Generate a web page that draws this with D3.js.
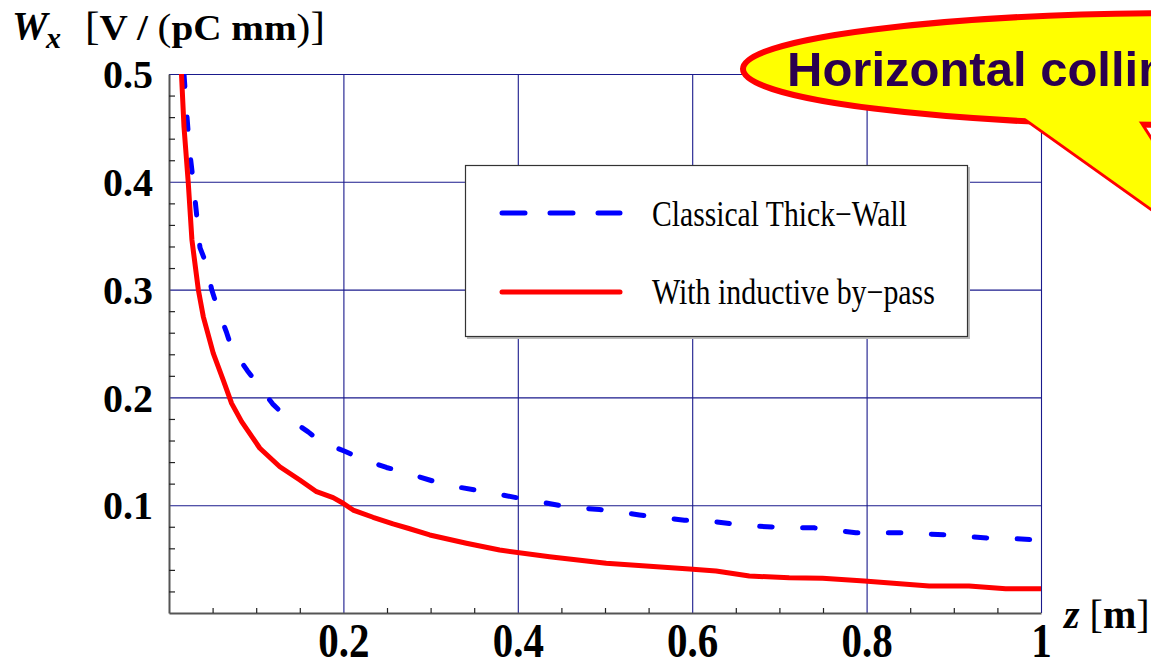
<!DOCTYPE html>
<html>
<head>
<meta charset="utf-8">
<script src="https://cdnjs.cloudflare.com/ajax/libs/d3/7.8.5/d3.min.js"></script>
<style>
body { margin: 0; background: #fff; }
svg { display: block; }
.serif { font-family: "Liberation Serif", "Times New Roman", Times, serif; }
</style>
</head>
<body>
<svg id="chart" width="1151" height="667"></svg>
<script>
// values
var zThick = [0.0172, 0.0200, 0.0235, 0.0275, 0.0315, 0.0355, 0.0432, 0.0489, 0.0553, 0.0661,
    0.0718, 0.0897, 0.1011, 0.1188, 0.1329, 0.1596, 0.1738, 0.2016, 0.2207, 0.2494,
    0.2684, 0.3162, 0.3658, 0.4116, 0.4601, 0.4937, 0.5395, 0.5911, 0.6120, 0.6636,
    0.7113, 0.7400, 0.7877, 0.8411, 0.8909, 0.9385, 0.9595, 1.0];
var wThick = [0.500, 0.467, 0.430, 0.402, 0.371, 0.339, 0.323, 0.300, 0.284, 0.260,
    0.246, 0.225, 0.213, 0.194, 0.183, 0.168, 0.159, 0.150, 0.143, 0.135,
    0.131, 0.119, 0.112, 0.105, 0.098, 0.096, 0.091, 0.086, 0.086, 0.081,
    0.079, 0.079, 0.0745, 0.0745, 0.0724, 0.0696, 0.0696, 0.0674];

var zBypass = [0.0143, 0.0172, 0.0221, 0.0263, 0.0336, 0.0393, 0.0507, 0.0622, 0.0718, 0.0833,
    0.1042, 0.1271, 0.1500, 0.1692, 0.1882, 0.1997, 0.2111, 0.2340, 0.2569, 0.2741,
    0.2990, 0.3410, 0.3792, 0.4364, 0.5014, 0.5968, 0.6274, 0.6655, 0.7113, 0.7495,
    0.7973, 0.8717, 0.9175, 0.9595, 1.0];
var wBypass = [0.500, 0.451, 0.399, 0.346, 0.300, 0.275, 0.241, 0.216, 0.1945, 0.1775,
    0.1528, 0.1357, 0.1234, 0.1125, 0.1070, 0.1018, 0.0955, 0.0888, 0.0826, 0.0786,
    0.0724, 0.0647, 0.0584, 0.0522, 0.0461, 0.0408, 0.0390, 0.0343, 0.0327, 0.0322,
    0.0297, 0.0250, 0.0250, 0.0225, 0.0225];

var seriesNames = ["Classical Thick\u2212Wall", "With inductive by\u2212pass"];
var seriesColors = ["#0000ff", "#ff0000"];

var xTicks = [0.2, 0.4, 0.6, 0.8, 1];
var xTickLabels = ["0.2", "0.4", "0.6", "0.8", "1"];
var xMinor = [0.05, 0.1, 0.15, 0.25, 0.3, 0.35, 0.45, 0.5, 0.55, 0.65, 0.7, 0.75, 0.85, 0.9, 0.95];
var yTicks = [0.1, 0.2, 0.3, 0.4, 0.5];
var yTickLabels = ["0.1", "0.2", "0.3", "0.4", "0.5"];
var yMinor = [0.02, 0.04, 0.06, 0.08, 0.12, 0.14, 0.16, 0.18, 0.22, 0.24, 0.26, 0.28,
    0.32, 0.34, 0.36, 0.38, 0.42, 0.44, 0.46, 0.48];

var calloutText = "Horizontal collimator";

var thick = zThick.map(function (z, i) { return {z: z, w: wThick[i]}; });
var bypass = zBypass.map(function (z, i) { return {z: z, w: wBypass[i]}; });

var plot = {left: 169, right: 1041, top: 74, bottom: 613};

var svg = d3.select("#chart");
svg.append("rect").attr("width", 1151).attr("height", 667).attr("fill", "#fff");

var x = d3.scaleLinear().domain([0, 1]).range([plot.left, plot.right]);
var y = d3.scaleLinear().domain([0, 0.5]).range([plot.bottom, plot.top]);

// stretch a text element horizontally so it spans the given width
function fitWidth(sel, x0, width) {
    var w = sel.node().getComputedTextLength();
    var k = width / w;
    sel.attr("transform", "translate(" + x0 + ",0) scale(" + k + ",1) translate(" + (-x0) + ",0)");
}

// grid
var gx = svg.append("g")
    .attr("transform", "translate(0," + plot.bottom + ")")
    .call(d3.axisBottom(x).tickValues(xTicks).tickSize(-(plot.bottom - plot.top)).tickFormat(""));
gx.select(".domain").remove();
gx.selectAll("line").attr("stroke", "#1a1a8c").attr("stroke-width", 1.1);

var gy = svg.append("g")
    .attr("transform", "translate(" + plot.left + ",0)")
    .call(d3.axisLeft(y).tickValues(yTicks).tickSize(-(plot.right - plot.left)).tickFormat(""));
gy.select(".domain").remove();
gy.selectAll("line").attr("stroke", "#1a1a8c").attr("stroke-width", 1.1);

// legend box
var legend = svg.append("g");
legend.append("rect")
    .attr("x", 467).attr("y", 167).attr("width", 503).attr("height", 172)
    .attr("fill", "#bbb");
legend.append("rect")
    .attr("x", 465.5).attr("y", 165.5).attr("width", 502).attr("height", 171)
    .attr("fill", "#fff").attr("stroke", "#333").attr("stroke-width", 1.2);

var legendY = [213, 292];
var legendBase = [226, 304];
var legendWidth = [255, 283];
seriesNames.forEach(function (name, i) {
    legend.append("line")
        .attr("x1", 502).attr("x2", 620)
        .attr("y1", legendY[i]).attr("y2", legendY[i])
        .attr("stroke", seriesColors[i])
        .attr("stroke-width", 5)
        .attr("stroke-linecap", "round")
        .attr("stroke-dasharray", i === 0 ? "23,25" : null);
    var t = legend.append("text")
        .attr("class", "serif")
        .attr("x", 652).attr("y", legendBase[i])
        .attr("font-size", 35)
        .attr("fill", "#000")
        .text(name);
    fitWidth(t, 652, legendWidth[i]);
});

// curves
svg.append("clipPath").attr("id", "clip")
    .append("rect")
    .attr("x", plot.left).attr("y", plot.top)
    .attr("width", plot.right - plot.left).attr("height", plot.bottom - plot.top);

var line = d3.line()
    .x(function (d) { return x(d.z); })
    .y(function (d) { return y(d.w); });

var curves = svg.append("g").attr("clip-path", "url(#clip)");
curves.append("path")
    .datum(thick)
    .attr("d", line)
    .attr("fill", "none")
    .attr("stroke", seriesColors[0])
    .attr("stroke-width", 5)
    .attr("stroke-linecap", "round")
    .attr("stroke-linejoin", "round")
    .attr("stroke-dasharray", "12.5,30.5");
curves.append("path")
    .datum(bypass)
    .attr("d", line)
    .attr("fill", "none")
    .attr("stroke", seriesColors[1])
    .attr("stroke-width", 5)
    .attr("stroke-linejoin", "round");

// axes with minor ticks
var ax = svg.append("g")
    .attr("transform", "translate(0," + plot.bottom + ")")
    .call(d3.axisBottom(x).tickValues(xMinor).tickSize(-5).tickSizeOuter(0).tickFormat(""));
ax.select(".domain").attr("stroke", "#555").attr("stroke-width", 2);
ax.selectAll("line").attr("stroke", "#222").attr("stroke-width", 1.2);

var ay = svg.append("g")
    .attr("transform", "translate(" + plot.left + ",0)")
    .call(d3.axisLeft(y).tickValues(yMinor).tickSize(-6).tickSizeOuter(0).tickFormat(""));
ay.select(".domain").attr("stroke", "#555").attr("stroke-width", 2);
ay.selectAll("line").attr("stroke", "#222").attr("stroke-width", 1.2);

// tick labels
var ly = svg.append("g")
    .attr("transform", "translate(" + plot.left + ",0)")
    .call(d3.axisLeft(y).tickValues(yTicks).tickSize(0).tickPadding(16)
        .tickFormat(function (d, i) { return yTickLabels[i]; }));
ly.select(".domain").remove();
ly.selectAll("text")
    .attr("class", "serif")
    .attr("font-size", 40)
    .attr("font-weight", "bold")
    .attr("fill", "#000")
    .attr("dy", "0.34em");

var lx = svg.append("g")
    .attr("transform", "translate(0," + plot.bottom + ")")
    .call(d3.axisBottom(x).tickValues(xTicks).tickSize(0)
        .tickFormat(function (d, i) { return xTickLabels[i]; }));
lx.select(".domain").remove();
lx.selectAll("text")
    .attr("class", "serif")
    .attr("font-size", 41)
    .attr("font-weight", "bold")
    .attr("fill", "#000")
    .attr("y", 0).attr("dy", 0)
    .attr("transform", "translate(0,44) scale(1,1.2)");

// axis titles
var title = svg.append("g").attr("class", "serif").attr("fill", "#000");
title.append("text")
    .attr("x", 12).attr("y", 39)
    .attr("font-size", 40).attr("font-weight", "bold").attr("font-style", "italic")
    .text("W");
title.append("text")
    .attr("x", 46).attr("y", 48)
    .attr("font-size", 30).attr("font-weight", "bold").attr("font-style", "italic")
    .text("x");
var unit = title.append("text").attr("x", 85).attr("y", 40);
unit.append("tspan").attr("font-size", 40).text("[");
unit.append("tspan").attr("font-size", 36).attr("font-weight", "bold").text("V / ");
unit.append("tspan").attr("font-size", 38).text("(");
unit.append("tspan").attr("font-size", 36).attr("font-weight", "bold").text("pC mm");
unit.append("tspan").attr("font-size", 38).text(")");
unit.append("tspan").attr("font-size", 40).text("]");
fitWidth(unit, 85, 240);

var zlab = svg.append("text").attr("class", "serif").attr("x", 1064).attr("y", 628).attr("fill", "#000");
zlab.append("tspan").attr("font-size", 40).attr("font-weight", "bold").attr("font-style", "italic").text("z ");
zlab.append("tspan").attr("font-size", 40).text("[");
zlab.append("tspan").attr("font-size", 40).attr("font-weight", "bold").text("m");
zlab.append("tspan").attr("font-size", 40).text("]");

// callout balloon
var callout = svg.append("g");
var tail = [[1000, 100], [1125, 100], [1230, 264]];
callout.append("polygon")
    .attr("points", tail.map(function (p) { return p.join(","); }).join(" "))
    .attr("fill", "#ffff00").attr("stroke", "#ff0000").attr("stroke-width", 6)
    .attr("stroke-linejoin", "miter");
callout.append("ellipse")
    .attr("cx", 1190).attr("cy", 69).attr("rx", 447).attr("ry", 56)
    .attr("fill", "#ffff00").attr("stroke", "#ff0000").attr("stroke-width", 6);
callout.append("polygon")
    .attr("points", tail.map(function (p) { return p.join(","); }).join(" "))
    .attr("fill", "#ffff00");
callout.append("text")
    .attr("x", 787).attr("y", 86)
    .attr("font-family", "'Liberation Sans', Arial, Helvetica, sans-serif")
    .attr("font-size", 49).attr("font-weight", "bold")
    .attr("fill", "#2b004f")
    .text(calloutText);
</script>
</body>
</html>
